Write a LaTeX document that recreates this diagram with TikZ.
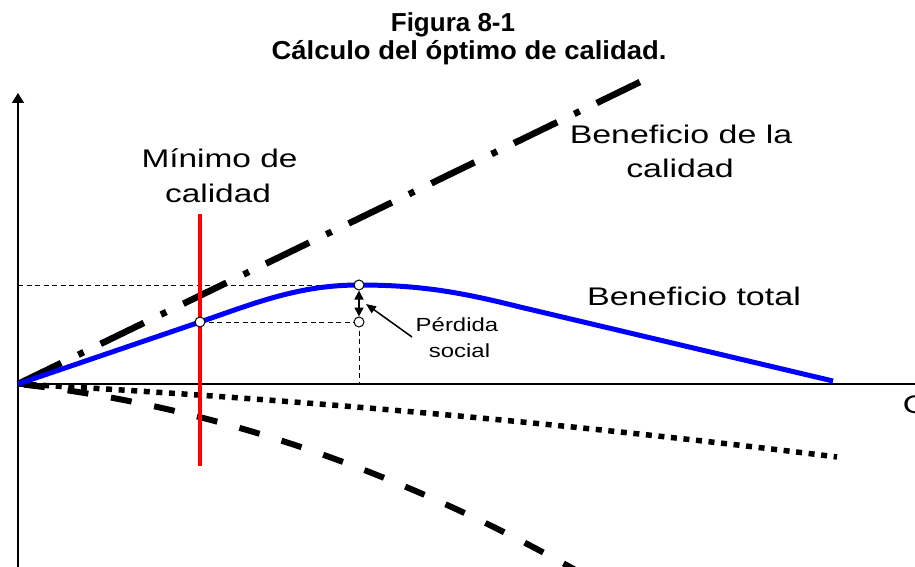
\documentclass[tikz,border=0pt]{standalone}
\usepackage{fontspec}
\setmainfont{Liberation Sans}
\usetikzlibrary{arrows.meta}
\definecolor{curveblue}{RGB}{0,0,255}
\definecolor{minred}{RGB}{255,0,0}
\begin{document}
\begin{tikzpicture}[x=1pt,y=-1pt,
  lbl/.style={anchor=base,inner sep=0pt,font=\fontsize{25.5}{30}\selectfont},
  smalllbl/.style={anchor=base,inner sep=0pt,font=\fontsize{19}{23}\selectfont},
  ttl/.style={anchor=base,inner sep=0pt,font=\fontsize{26}{30}\selectfont\bfseries},
  axisline/.style={line width=1.5pt,-{Triangle[length=10pt,width=12pt]}},
  guide/.style={line width=0.9pt,dash pattern=on 5pt off 3.5pt},
  dot/.style={circle,draw=black,fill=white,line width=1pt,minimum size=10pt,inner sep=0pt},
  benefit/.style={line width=6.5pt,dash pattern=on 48pt off 19pt on 6pt off 18.9pt},
  costA/.style={line width=5.5pt,dash pattern=on 6pt off 6.6pt},
  costB/.style={line width=6pt,dash pattern=on 21pt off 23pt,dash phase=38pt},
  total/.style={line width=5pt,draw=curveblue},
  minline/.style={line width=4.5pt,draw=minred},
  pointer/.style={line width=1.5pt,-{Triangle[length=10pt,width=8pt]}},
  gap/.style={line width=1.5pt,{Triangle[length=9pt,width=9pt]}-{Triangle[length=9pt,width=9pt]}}]
\useasboundingbox (0,0) rectangle (915,567);
\fill[white] (0,0) rectangle (915,567);

% title
\node[ttl] (t1) at (453,32) {Figura 8-1};
\node[ttl] (t2) at (469,60) {\scalebox{1.055}[1]{Cálculo del óptimo de calidad.}};

% key coordinates
\coordinate (O) at (18,384);
\coordinate (ytop) at (18,93);
\coordinate (ybot) at (18,585);
\coordinate (xend) at (925,384);
\coordinate (M) at (200,322);
\coordinate (P) at (359,285);
\coordinate (L) at (359,322);
\coordinate (PA) at (18,285);
\coordinate (PX) at (359,384);
\coordinate (Bend) at (640,82);
\coordinate (Tend) at (833,381);
\coordinate (Cend) at (837,457);
\coordinate (Dend) at (600,584);
\coordinate (Rtop) at (200,214);
\coordinate (Rbot) at (200,466);
\coordinate (ptail) at (412,337);
\coordinate (phead) at (366,304);

% axes
\draw[axisline] (ybot) -- (ytop);
\draw[axisline] (O) -- (xend);

% guides
\draw[guide] (PA) -- (P);
\draw[guide] (M) -- (L);
\draw[guide] (L) -- (PX);

% cost curves
\draw[costA] (O) .. controls (291,398.5) and (564,422.9) .. (Cend);
\draw[costB] (O) .. controls (212,405.1) and (406,471.7) .. (Dend);

% benefit of quality
\draw[benefit] (O) -- (Bend);

% total benefit
\draw[total] (O) -- (M) .. controls (255,303) and (299,285) .. (P)
  .. controls (420,285) and (460,292) .. (520,307) -- (Tend);

% minimum quality
\draw[minline] (Rtop) -- (Rbot);

% points
\node[dot] (m) at (M) {};
\node[dot] (pk) at (P) {};
\node[dot] (lo) at (L) {};

% arrows
\draw[gap] (pk) -- (lo);
\draw[pointer] (ptail) -- (phead);

% labels
\node[lbl] (lmin1) at (219.5,167) {\scalebox{1.31}[1]{Mínimo de}};
\node[lbl] (lmin2) at (218,202) {\scalebox{1.31}[1]{calidad}};
\node[lbl] (lben1) at (681,143) {\scalebox{1.33}[1]{Beneficio de la}};
\node[lbl] (lben2) at (680,177) {\scalebox{1.33}[1]{calidad}};
\node[lbl] (ltot) at (694,305) {\scalebox{1.335}[1]{Beneficio total}};
\node[smalllbl] (lloss1) at (457,331) {\scalebox{1.26}[1]{Pérdida}};
\node[smalllbl] (lloss2) at (459.5,357) {\scalebox{1.26}[1]{social}};
\node[lbl] (lq) at (916,413) {\scalebox{1.33}[1]{Q}};
\end{tikzpicture}
\end{document}
